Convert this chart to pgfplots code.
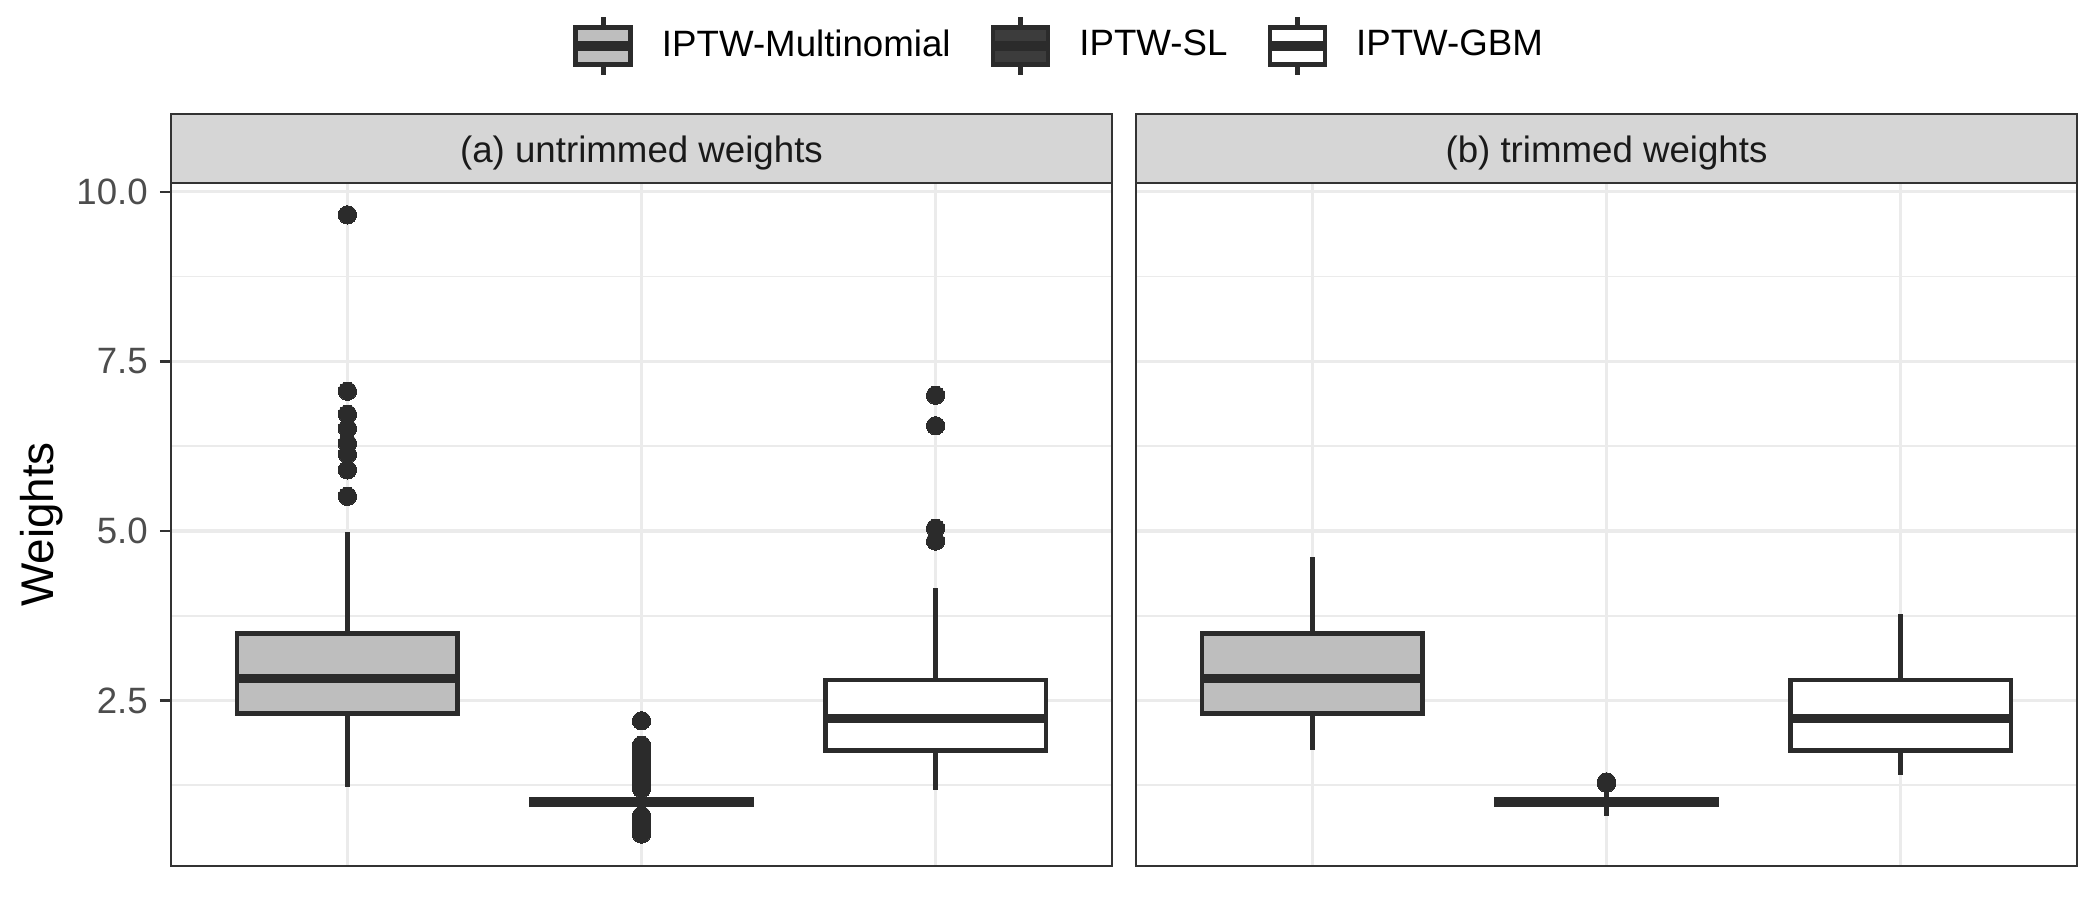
\documentclass[border=0pt]{standalone}
\usepackage{fontspec}
\setmainfont{Liberation Sans}
\usepackage{pgfplots}
\pgfplotsset{compat=1.18}
\usepgfplotslibrary{statistics}

\definecolor{boxline}{HTML}{2B2B2B}
\definecolor{fillA}{HTML}{BEBEBE}
\definecolor{fillB}{HTML}{3C3C3C}
\definecolor{fillC}{HTML}{FFFFFF}
\definecolor{gridc}{HTML}{EBEBEB}
\definecolor{framec}{HTML}{333333}
\definecolor{stripc}{HTML}{D6D6D6}
\definecolor{ticklab}{HTML}{4D4D4D}
\definecolor{striptext}{HTML}{1A1A1A}

\pgfplotsset{
  panel/.style={
    scale only axis,
    width=225.84pt, height=163.92pt,
    xmin=0.4, xmax=3.6, ymin=0.06, ymax=10.13,
    xtick={1,2,3}, xticklabels={},
    xtick style={draw=none},
    ytick={2.5,5,7.5,10},
    minor ytick={1.25,3.75,6.25,8.75},
    minor tick length=0pt,
    xmajorgrids, ymajorgrids, yminorgrids,
    major grid style={gridc, line width=0.8pt},
    minor grid style={gridc, line width=0.4pt},
    axis line style={framec, line width=0.55pt},
    tick align=outside,
    major tick length=2.64pt,
    ytick pos=left,
    ytick style={framec, line width=0.6pt},
    yticklabel style={font=\fontsize{8.8}{10.5}\selectfont, text=ticklab, xshift=0.6pt},
  },
  bx/.style n args={6}{
    forget plot,
    draw=boxline, mark=*, mark size=2.2pt,
    mark options={draw=boxline, fill=boxline, line width=0pt},
    boxplot prepared={
      draw direction=y,
      draw position=#1,
      lower whisker=#2, lower quartile=#3, median=#4,
      upper quartile=#5, upper whisker=#6,
      box extend=0.75, whisker extend=0,
      every whisker/.style={draw=boxline, line width=1.1pt},
      every median/.style={draw=boxline, line width=2.2pt},
    },
  },
  keyimg/.style={legend image code/.code={
    \draw[boxline, line width=1.1pt] (6.6pt,-6.9pt) -- (6.6pt,6.9pt);
    \draw[boxline, fill=#1, line width=1.1pt] (0pt,-4.45pt) rectangle (13.2pt,4.45pt);
    \draw[boxline, line width=2.2pt] (0pt,0pt) -- (13.2pt,0pt);
    \path[draw=none] (0pt,0pt) -- (18.7pt,0pt);
  }},
}

\begin{document}
\begin{tikzpicture}
\useasboundingbox (0,0) rectangle (504pt,216pt);

% ---------------- Panel (a) ----------------
\begin{axis}[panel, name=a,
  at={(41.04pt,8.16pt)}, anchor=south west,
  yticklabels={2.5,5.0,7.5,10.0},
  ylabel={Weights},
  ylabel style={at={(axis description cs:-0.137,0.5)}, anchor=center,
    font=\fontsize{11}{13}\selectfont, text=black},
  legend style={at={(axis description cs:0.946,1.2006)}, anchor=center,
    draw=none, fill=none, legend columns=3,
    font=\fontsize{8.8}{10.5}\selectfont,
    /tikz/every even column/.append style={column sep=7.1pt}},
  legend cell align=left,
]
\addlegendimage{keyimg=fillA}
\addlegendentry{IPTW-Multinomial}
\addlegendimage{keyimg=fillB}
\addlegendentry{IPTW-SL}
\addlegendimage{keyimg=fillC}
\addlegendentry{IPTW-GBM}

\addplot[bx={1}{1.23}{2.31}{2.82}{3.49}{4.99},
  boxplot/every box/.style={draw=boxline, fill=fillA, line width=1.1pt}]
  table[row sep=\\, y index=0] {data\\ 9.66\\ 7.06\\ 6.72\\ 6.51\\ 6.29\\ 6.13\\ 5.90\\ 5.51\\};

\addplot[bx={2}{0.86}{0.97}{1.00}{1.04}{1.15},
  boxplot/every box/.style={draw=boxline, fill=fillB, line width=1.1pt}]
  table[row sep=\\, y index=0] {data\\ 2.20\\ 1.84\\ 1.78\\ 1.70\\ 1.64\\ 1.57\\ 1.50\\ 1.44\\ 1.37\\ 1.31\\ 1.25\\ 1.20\\ 0.80\\ 0.76\\ 0.72\\ 0.68\\ 0.64\\ 0.60\\ 0.56\\ 0.53\\};

\addplot[bx={3}{1.18}{1.76}{2.23}{2.80}{4.16},
  boxplot/every box/.style={draw=boxline, fill=fillC, line width=1.1pt}]
  table[row sep=\\, y index=0] {data\\ 7.00\\ 6.55\\ 5.04\\ 4.85\\};
\end{axis}

% ---------------- Panel (b) ----------------
\begin{axis}[panel, name=b,
  at={(272.64pt,8.16pt)}, anchor=south west,
  yticklabels={}, ytick style={draw=none},
]
\addplot[bx={1}{1.77}{2.31}{2.82}{3.49}{4.61},
  boxplot/every box/.style={draw=boxline, fill=fillA, line width=1.1pt}]
  coordinates {};

\addplot[bx={2}{0.79}{0.97}{1.00}{1.04}{1.20},
  boxplot/every box/.style={draw=boxline, fill=fillB, line width=1.1pt}]
  table[row sep=\\, y index=0] {data\\ 1.28\\ 1.30\\};

\addplot[bx={3}{1.40}{1.76}{2.23}{2.80}{3.78},
  boxplot/every box/.style={draw=boxline, fill=fillC, line width=1.1pt}]
  coordinates {};
\end{axis}

% ---------------- Strips ----------------
\draw[fill=stripc, draw=framec, line width=0.55pt] (a.north west) rectangle ([yshift=16.56pt]a.north east);
\node[font=\fontsize{8.8}{10.5}\selectfont, text=striptext] at ([yshift=7.2pt]a.north) {(a) untrimmed weights};
\draw[fill=stripc, draw=framec, line width=0.55pt] (b.north west) rectangle ([yshift=16.56pt]b.north east);
\node[font=\fontsize{8.8}{10.5}\selectfont, text=striptext] at ([yshift=7.2pt]b.north) {(b) trimmed weights};
\end{tikzpicture}
\end{document}
